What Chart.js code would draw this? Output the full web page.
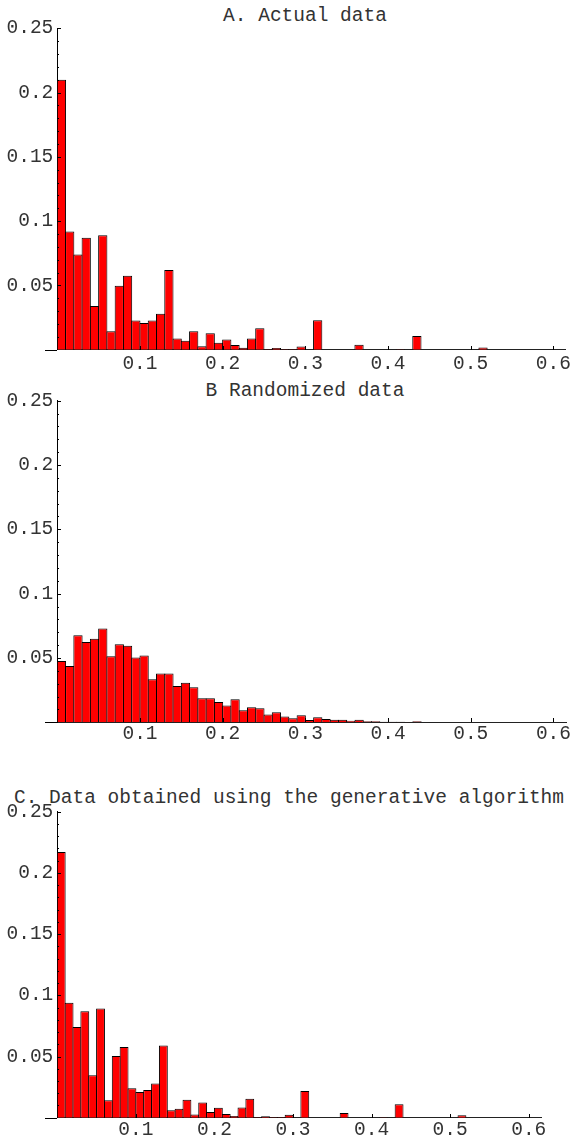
<!DOCTYPE html>
<html>
<head>
<meta charset="utf-8">
<script src="https://cdn.jsdelivr.net/npm/chart.js@4.4.0/dist/chart.umd.min.js"></script>
<style>
  body { margin: 0; background: #fff; width: 573px; height: 1143px; position: relative; overflow: hidden; }
  canvas { position: absolute; left: 0; }
  .title { position: absolute; font: 19.5px/19.5px "Liberation Mono", monospace; color: #333; white-space: nowrap; transform: translateX(-50%); }
</style>
</head>
<body>
<div class="title" style="left:305px; top:7px">A. Actual data</div>
<div class="title" style="left:305px; top:381.5px">B Randomized data</div>
<div class="title" style="left:289px; top:788.5px">C. Data obtained using the generative algorithm</div>
<canvas id="chartA" width="573" height="375" style="top:0px"></canvas>
<canvas id="chartB" width="573" height="375" style="top:375px"></canvas>
<canvas id="chartC" width="573" height="393" style="top:750px"></canvas>
<script>
// histogram bins, 0.01 wide, from 0 to 0.6
const binWidth = 0.01;
const bins = Array.from({ length: 60 }, (_, i) => +(i * binWidth + binWidth / 2).toFixed(3));

// A. Actual data
const actualData = [
  0.210, 0.092, 0.074, 0.087, 0.034, 0.089, 0.0143, 0.0498, 0.0576, 0.0228,
  0.0207, 0.0228, 0.028, 0.062, 0.0088, 0.007, 0.0143, 0.0026, 0.0127, 0.0054,
  0.008, 0.0036, 0.0016, 0.0088, 0.0166, 0.0005, 0.0013, 0.0005, 0.0005, 0.0025,
  0, 0.023, 0, 0, 0, 0, 0.0039, 0, 0, 0,
  0, 0.0003, 0, 0.0106, 0, 0, 0, 0, 0, 0,
  0, 0.0018, 0, 0, 0, 0, 0, 0, 0, 0
];

// B Randomized data
const randomizedData = [
  0.0477, 0.0438, 0.0676, 0.0624, 0.065, 0.073, 0.0513, 0.0606, 0.0596, 0.0503,
  0.052, 0.0334, 0.038, 0.038, 0.0282, 0.0308, 0.0272, 0.0187, 0.0187, 0.0158,
  0.013, 0.0179, 0.0093, 0.0117, 0.0109, 0.006, 0.0078, 0.0046, 0.0031, 0.0054,
  0.0018, 0.0039, 0.0026, 0.002, 0.002, 0.0013, 0.002, 0.0008, 0.0008, 0.0005,
  0.0005, 0.0005, 0.0003, 0.0008, 0.0002, 0.0002, 0, 0, 0.0001, 0,
  0.0002, 0, 0, 0, 0, 0, 0, 0, 0, 0
];

// C. Data obtained using the generative algorithm
const generativeData = [
  0.217, 0.094, 0.074, 0.087, 0.0346, 0.0893, 0.0142, 0.0504, 0.0577, 0.024,
  0.021, 0.0226, 0.028, 0.059, 0.006, 0.0074, 0.0147, 0.0027, 0.0125, 0.0046,
  0.0082, 0.003, 0.0014, 0.0084, 0.0155, 0.0005, 0.0011, 0.0005, 0.0005, 0.0025,
  0, 0.0218, 0, 0, 0, 0, 0.0038, 0, 0, 0,
  0, 0.0003, 0, 0.0109, 0, 0, 0, 0, 0, 0,
  0, 0.0019, 0, 0, 0, 0, 0, 0, 0, 0
];

const xTickLabels = [0.1, 0.2, 0.3, 0.4, 0.5, 0.6];
const yTickLabels = [0.05, 0.1, 0.15, 0.2, 0.25];
const yMinorTicks = Array.from({ length: 25 }, (_, i) => (i + 1) / 100);

const tickFont = { family: "'Liberation Mono', monospace", size: 19.5 };

// inward tick marks (Mathematica style) + little stub of x axis left of origin
const axisMarks = {
  id: 'axisMarks',
  afterDraw(chart) {
    const { ctx, scales: { x, y } } = chart;
    const x0 = Math.round(x.getPixelForValue(0));
    const y0 = Math.round(y.getPixelForValue(0));
    ctx.save();
    ctx.strokeStyle = '#000';
    ctx.lineWidth = 1;
    ctx.beginPath();
    ctx.moveTo(x0 - 12, y0 + 0.5);
    ctx.lineTo(x0, y0 + 0.5);
    yMinorTicks.forEach(v => {
      const p = Math.round(y.getPixelForValue(v)) + 0.5;
      const len = Math.round(v * 100) % 5 === 0 ? 4 : 2;
      ctx.moveTo(x0, p);
      ctx.lineTo(x0 + len, p);
    });
    xTickLabels.forEach(v => {
      const p = Math.round(x.getPixelForValue(v)) + 0.5;
      ctx.moveTo(p, y0);
      ctx.lineTo(p, y0 - 4);
    });
    ctx.stroke();
    ctx.restore();
  }
};

function histogram(id, values, box) {
  return new Chart(document.getElementById(id), {
    type: 'bar',
    data: {
      datasets: [{
        data: bins.map((b, i) => ({ x: b, y: values[i] })),
        backgroundColor: '#ff0000',
        borderColor: '#000',
        borderWidth: 1,
        barPercentage: box.barPct,
        categoryPercentage: 1
      }]
    },
    options: {
      responsive: false,
      animation: false,
      events: [],
      layout: { padding: { top: box.top, right: box.right, bottom: 0, left: 0 } },
      plugins: { legend: { display: false }, tooltip: { enabled: false } },
      scales: {
        x: {
          type: 'linear',
          min: 0,
          max: box.xMax,
          offset: false,
          grid: { display: false, drawTicks: false },
          border: { display: true, color: '#222', width: 1 },
          afterBuildTicks: s => { s.ticks = xTickLabels.map(v => ({ value: v })); },
          afterFit: s => { s.height = box.xHeight; },
          ticks: { padding: box.xPad, maxRotation: 0, autoSkip: false, color: '#333', font: tickFont, callback: v => String(v) }
        },
        y: {
          min: 0,
          max: 0.25,
          grid: { display: false, drawTicks: false },
          border: { display: true, color: '#000', width: 1 },
          afterBuildTicks: s => { s.ticks = yTickLabels.map(v => ({ value: v })); },
          afterFit: s => { s.width = 57.3; },
          ticks: { padding: 4, color: '#333', font: tickFont, callback: v => String(v) }
        }
      }
    },
    plugins: [axisMarks]
  });
}

histogram('chartA', actualData, { top: 28.3, right: 7, xMax: 0.6152, xHeight: 25.3, xPad: 2, barPct: 1.12 });
histogram('chartB', randomizedData, { top: 25.7, right: 7, xMax: 0.6152, xHeight: 27.7, xPad: 0, barPct: 1.12 });
histogram('chartC', generativeData, { top: 61.7, right: 31.3, xMax: 0.6165, xHeight: 25.3, xPad: 0, barPct: 1.127 });
</script>
</body>
</html>
